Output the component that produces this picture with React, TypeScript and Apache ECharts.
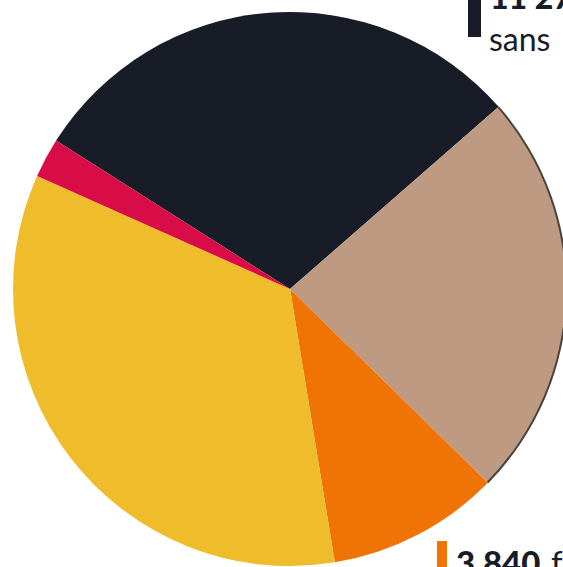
import React, { useEffect, useRef } from "react";
import * as echarts from "echarts";

const categories = ["Navy", "Tan", "Orange", "Yellow", "Red"];
const values = [11270, 9050, 3840, 13060, 880];
const colors = ["#181c27", "#bf9a82", "#f07305", "#efbc2b", "#d80c46"];
const topNumber = "11 270";
const topWord = "sans";
const bottomNumber = "3 840";
const bottomWord = "f";

export default function App() {
  const ref = useRef<HTMLDivElement>(null);
  useEffect(() => {
    if (!ref.current) return;
    const chart = echarts.init(ref.current, undefined, { renderer: "svg" });
    const data = categories.map((c, i) => ({
      name: c,
      value: values[i],
      itemStyle: { color: colors[i] },
    }));
    const ringData = categories.map((c, i) => ({
      name: c,
      value: values[i],
      itemStyle: { color: c === "Tan" ? "#4a4440" : "rgba(0,0,0,0)" },
    }));
    chart.setOption({
      animation: false,
      series: [
        {
          type: "pie",
          center: [290, 289],
          radius: [0, 277],
          startAngle: 147.6,
          clockwise: true,
          label: { show: false },
          labelLine: { show: false },
          emphasis: { disabled: true },
          itemStyle: { borderWidth: 0 },
          data,
        },
        {
          type: "pie",
          center: [290, 289],
          radius: [275.5, 277.5],
          startAngle: 147.6,
          clockwise: true,
          silent: true,
          label: { show: false },
          labelLine: { show: false },
          emphasis: { disabled: true },
          itemStyle: { borderWidth: 0 },
          data: ringData,
        },
      ],
      graphic: [
        { type: "rect", shape: { x: 468, y: 0, width: 13, height: 37 }, style: { fill: "#181c27" } },
        {
          type: "text",
          style: { x: 490, y: -20, text: topNumber, font: "900 32px Lato", fill: "#181c27", verticalAlign: "top" },
        },
        {
          type: "text",
          style: { x: 489, y: 22, text: topWord, font: "400 32px Lato", fill: "#181c27", verticalAlign: "top" },
        },
        { type: "rect", shape: { x: 437, y: 541, width: 10, height: 30 }, style: { fill: "#f07305" } },
        {
          type: "text",
          style: { x: 456, y: 545, text: bottomNumber, font: "900 33px Lato", fill: "#181c27", verticalAlign: "top" },
        },
        {
          type: "text",
          style: { x: 551, y: 545, text: bottomWord, font: "400 33px Lato", fill: "#181c27", verticalAlign: "top" },
        },
      ],
    });
    return () => chart.dispose();
  }, []);
  return (
    <div
      ref={ref}
      style={{ position: "absolute", left: 0, top: 0, width: 563, height: 567, background: "#fff" }}
    />
  );
}
